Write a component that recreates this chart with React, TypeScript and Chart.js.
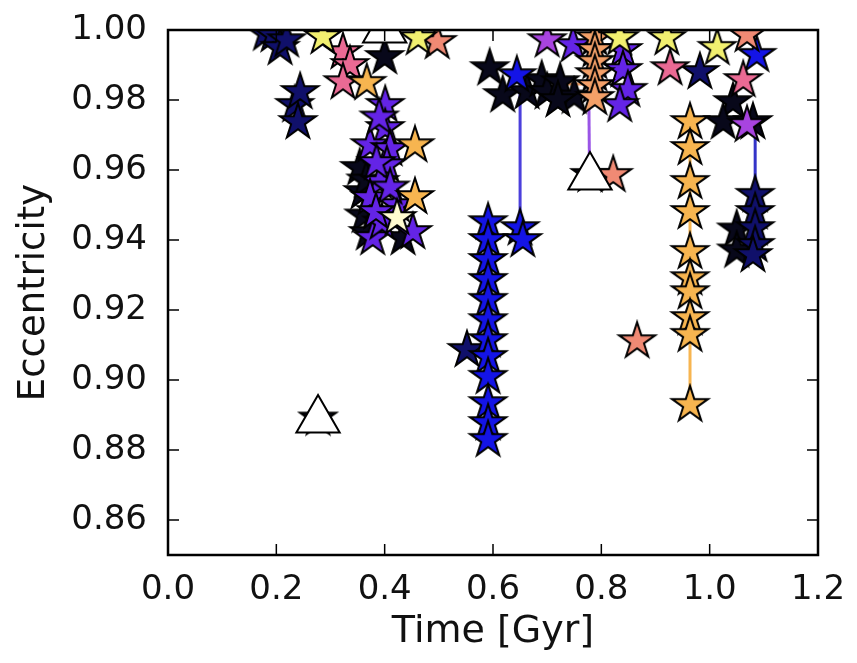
import { useEffect, useRef } from "react";
import { Chart, registerables } from "chart.js";
Chart.register(...registerables);

type P = [number, number];

const xTicks = [0.0, 0.2, 0.4, 0.6, 0.8, 1.0, 1.2];
const yTicks = [0.86, 0.88, 0.9, 0.92, 0.94, 0.96, 0.98, 1.0];
const xRange: P = [0, 1.2];
const yRange: P = [0.85, 1.0];

const blackStars: P[] = [
  [0.594, 0.9891], [0.618, 0.9814], [0.663, 0.9823], [0.69, 0.9857], [0.70, 0.9823],
  [0.724, 0.9851], [0.75, 0.981], [0.72, 0.980], [0.779, 0.9586], [0.277, 0.889],
  [1.043, 0.9794], [1.025, 0.9737], [1.080, 0.9737], [1.050, 0.943], [1.050, 0.937],
  [0.400, 0.9923], [0.354, 0.9606], [0.360, 0.9537], [0.434, 0.9406],
  [0.362, 0.947], [0.366, 0.957], [0.370, 0.942],
];
const navyStars: P[] = [
  [0.18, 0.999], [0.194, 0.9986], [0.207, 0.9949], [0.219, 0.9971], [0.234, 0.9786],
  [0.244, 0.9823], [0.240, 0.9737], [0.982, 0.988], [1.084, 0.9529], [1.084, 0.948],
  [1.084, 0.9434], [1.084, 0.9386], [1.080, 0.9357], [0.552, 0.9086],
];
const blueStars: P[] = [
  [0.591, 0.9451], [0.591, 0.94], [0.591, 0.9343], [0.591, 0.9286], [0.591, 0.9229],
  [0.591, 0.9171], [0.591, 0.9114], [0.591, 0.9066], [0.591, 0.9009], [0.591, 0.8934],
  [0.591, 0.8877], [0.591, 0.8829], [0.644, 0.9871], [0.650, 0.9434], [0.655, 0.94],
  [1.087, 0.9929],
];
const violetStars: P[] = [
  [0.401, 0.9786], [0.401, 0.972], [0.373, 0.9671], [0.41, 0.966], [0.404, 0.9614],
  [0.391, 0.9566], [0.373, 0.952], [0.423, 0.95], [0.378, 0.9406], [0.452, 0.9423],
  [0.39, 0.975], [0.385, 0.962], [0.395, 0.945], [0.41, 0.955], [0.384, 0.948],
  [0.840, 0.9943], [0.840, 0.9886], [0.849, 0.9829], [0.834, 0.9786], [0.748, 0.9957],
];
const purpleStars: P[] = [[0.700, 0.9971], [1.069, 0.9729]];
const pinkStars: P[] = [
  [0.323, 0.9937], [0.336, 0.99], [0.323, 0.9851], [0.927, 0.9891], [1.062, 0.9857],
];
const salmonStars: P[] = [[0.497, 0.9966], [0.822, 0.9586], [0.866, 0.9111], [1.069, 0.9986]];
const peachStars: P[] = [
  [0.788, 0.9977], [0.788, 0.9943], [0.788, 0.9909], [0.788, 0.9874], [0.788, 0.984], [0.788, 0.9806],
];
const orangeStars: P[] = [
  [0.9637, 0.9737], [0.9637, 0.9663], [0.9637, 0.9566], [0.9637, 0.948], [0.9637, 0.9366],
  [0.9637, 0.9291], [0.9637, 0.9251], [0.9637, 0.9177], [0.9637, 0.9129], [0.9637, 0.8929],
  [0.367, 0.9849], [0.456, 0.9671], [0.456, 0.9523],
];
const yellowStars: P[] = [[0.286, 0.998], [0.462, 0.9977], [0.834, 0.9977], [0.921, 0.9977], [1.014, 0.9949]];
const creamStars: P[] = [[0.423, 0.9463]];
const triangles: P[] = [[0.277, 0.8886], [0.779, 0.958], [0.40, 1.0]];

const lineBlue: P[] = [[0.650, 0.987], [0.650, 0.942]];
const linePurple: P[] = [[0.777, 0.980], [0.778, 0.962]];
const lineNavy: P[] = [[1.084, 0.972], [1.084, 0.952]];
const lineOrange: P[] = [[0.9637, 0.9737], [0.9637, 0.8929]];
const linePeach: P[] = [[0.71, 0.9846], [0.788, 0.9846]];

function makeStar(fill: string, R = 19): HTMLCanvasElement {
  const c = document.createElement("canvas");
  const size = Math.ceil(2 * R + 6);
  c.width = size;
  c.height = size;
  const ctx = c.getContext("2d")!;
  const cx = size / 2;
  const cy = size / 2;
  ctx.beginPath();
  for (let i = 0; i < 10; i++) {
    const r = i % 2 === 0 ? R : R * 0.382;
    const a = -Math.PI / 2 + (i * Math.PI) / 5;
    ctx.lineTo(cx + r * Math.cos(a), cy + r * Math.sin(a));
  }
  ctx.closePath();
  ctx.fillStyle = fill;
  ctx.fill();
  ctx.lineWidth = 2;
  ctx.strokeStyle = "#000";
  ctx.lineJoin = "miter";
  ctx.stroke();
  return c;
}

const toXY = (a: P[]) => a.map(([x, y]) => ({ x, y }));

export default function App() {
  const ref = useRef<HTMLCanvasElement>(null);
  useEffect(() => {
    document.body.style.margin = "0";
    const starSet = (data: P[], color: string) => ({
      type: "scatter" as const,
      data: toXY(data),
      pointStyle: makeStar(color),
      pointRadius: 19,
      clip: 0,
    });
    const lineSet = (data: P[], color: string) => ({
      type: "scatter" as const,
      data: toXY(data),
      showLine: true,
      borderColor: color,
      borderWidth: 3,
      pointRadius: 0,
      clip: 0,
    });
    const framePlugin = {
      id: "frameTicks",
      afterDatasetsDraw(chart: any) {
        const { ctx, chartArea } = chart;
        const { left, right, top, bottom } = chartArea;
        const xs = chart.scales.x;
        const ys = chart.scales.y;
        ctx.save();
        ctx.strokeStyle = "#000";
        ctx.lineWidth = 1.5;
        ctx.beginPath();
        for (const v of xTicks) {
          const px = xs.getPixelForValue(v);
          ctx.moveTo(px, bottom);
          ctx.lineTo(px, bottom - 11);
          ctx.moveTo(px, top);
          ctx.lineTo(px, top + 11);
        }
        for (const v of yTicks) {
          const py = ys.getPixelForValue(v);
          ctx.moveTo(left, py);
          ctx.lineTo(left + 11, py);
          ctx.moveTo(right, py);
          ctx.lineTo(right - 11, py);
        }
        ctx.stroke();
        ctx.lineWidth = 2.5;
        ctx.strokeRect(left, top, right - left, bottom - top);
        ctx.restore();
      },
    };
    const chart = new Chart(ref.current!, {
      type: "scatter",
      data: {
        datasets: [
          {
            type: "scatter",
            data: toXY(triangles),
            pointStyle: "triangle",
            pointRadius: 25,
            backgroundColor: "#ffffff",
            borderColor: "#000000",
            borderWidth: 2,
            clip: 0,
          } as any,
          starSet(creamStars, "#fffbd0"),
          starSet(yellowStars, "#f2f070"),
          starSet(orangeStars, "#f7b550"),
          starSet(peachStars, "#f3a068"),
          starSet(salmonStars, "#f08a74"),
          starSet(pinkStars, "#ea6a94"),
          starSet(purpleStars, "#a844e0"),
          starSet(violetStars, "#6424e6"),
          starSet(blueStars, "#1414e6"),
          starSet(navyStars, "#10106a"),
          starSet(blackStars, "#08081a"),
          lineSet(lineBlue, "#4b3fdc"),
          lineSet(linePurple, "#9a55e6"),
          lineSet(lineNavy, "#3434c8"),
          lineSet(lineOrange, "#f7b550"),
          lineSet(linePeach, "#f3a068"),
        ] as any,
      },
      options: {
        animation: false,
        responsive: false,
        events: [],
        layout: { padding: { left: 0, top: 30, right: 39, bottom: 0 }, autoPadding: false },
        plugins: { legend: { display: false }, tooltip: { enabled: false } },
        scales: {
          x: {
            type: "linear",
            min: xRange[0],
            max: xRange[1],
            grid: { display: false },
            border: { display: false },
            afterBuildTicks: (s: any) => {
              s.ticks = xTicks.map((v) => ({ value: v }));
            },
            afterFit: (s: any) => {
              s.height = 108;
            },
            ticks: {
              padding: 10,
              color: "#111",
              font: { family: "DejaVu Sans", size: 34, lineHeight: 1 },
              callback: (v: any) => Number(v).toFixed(1),
              maxRotation: 0,
              autoSkip: false,
            },
            title: {
              display: true,
              text: "Time [Gyr]",
              color: "#111",
              font: { family: "DejaVu Sans", size: 38, lineHeight: 1 },
              padding: { top: 0, bottom: 12 },
            },
          },
          y: {
            type: "linear",
            min: yRange[0],
            max: yRange[1],
            grid: { display: false },
            border: { display: false },
            afterBuildTicks: (s: any) => {
              s.ticks = yTicks.map((v) => ({ value: v }));
            },
            afterFit: (s: any) => {
              s.width = 168;
            },
            ticks: {
              padding: 13,
              color: "#111",
              font: { family: "DejaVu Sans", size: 34, lineHeight: 1 },
              callback: (v: any) => Number(v).toFixed(2),
              autoSkip: false,
            },
            title: {
              display: true,
              text: "Eccentricity",
              color: "#111",
              font: { family: "DejaVu Sans", size: 37, lineHeight: 1 },
              padding: { top: 16, bottom: 0 },
            },
          },
        },
      } as any,
      plugins: [framePlugin],
    });
    return () => chart.destroy();
  }, []);
  return (
    <div style={{ width: 857, height: 663 }}>
      <canvas ref={ref} width={857} height={663} />
    </div>
  );
}
